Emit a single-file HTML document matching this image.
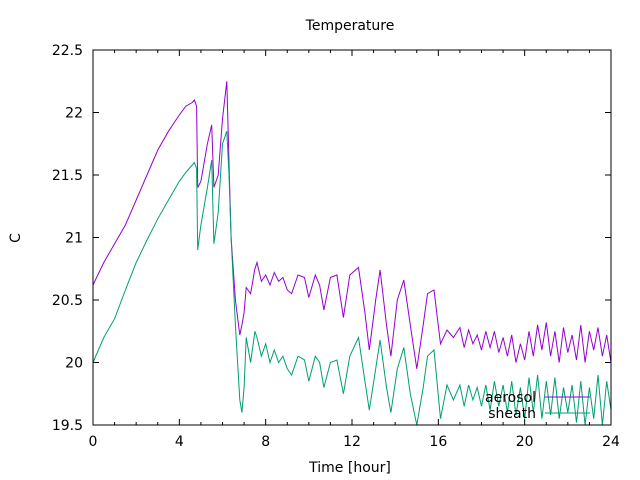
<!DOCTYPE html>
<html><head><meta charset="utf-8"><style>
body{margin:0;background:#fff;}
svg{display:block;font-family:"DejaVu Sans","Liberation Sans",sans-serif;}
</style></head><body>
<svg id="chart" width="640" height="480" viewBox="0 0 640 480">
<text x="350" y="30" text-anchor="middle" font-size="14">Temperature</text>
<text x="20" y="238" text-anchor="middle" font-size="14" transform="rotate(-90 20 238)">C</text>
<text x="350" y="472" text-anchor="middle" font-size="14">Time [hour]</text>
<g id="axes"></g>
<g id="series"></g>
<g id="legend">
<text x="536" y="402" text-anchor="end" font-size="14">aerosol</text>
<line x1="545" y1="397" x2="590" y2="397" stroke="#9400d3" stroke-width="1"/>
<text x="536" y="418" text-anchor="end" font-size="14">sheath</text>
<line x1="545" y1="413" x2="590" y2="413" stroke="#009e73" stroke-width="1"/>
</g>
<rect x="93" y="50" width="518" height="375" fill="none" stroke="#000" stroke-width="1"/>
</svg>
<script>
const xTicks=[0,4,8,12,16,20,24];
const yTicks=[19.5,20,20.5,21,21.5,22,22.5];
const yTickLabels=["19.5","20","20.5","21","21.5","22","22.5"];
const timeA=[0,0.5,1,1.5,2,2.5,3,3.5,4,4.3,4.6,4.7,4.8,4.85,5.0,5.3,5.5,5.6,5.8,6.0,6.2,6.3,6.4,6.6,6.8,6.9,7.0,7.1,7.3,7.5,7.6,7.8,8.0,8.2,8.4,8.6,8.8,9.0,9.2,9.5,9.8,10.0,10.3,10.5,10.7,11.0,11.3,11.6,11.9,12.3,12.6,12.8,13.1,13.3,13.6,13.8,14.1,14.4,14.7,15.0,15.3,15.5,15.8,16.1,16.4,16.7,17.0,17.2,17.4,17.6,17.8,18.0,18.2,18.4,18.6,18.8,19.0,19.2,19.4,19.6,19.8,20.0,20.2,20.4,20.6,20.8,21.0,21.2,21.4,21.6,21.8,22.0,22.2,22.4,22.6,22.8,23.0,23.2,23.4,23.6,23.8,24.0];
const aerosol=[20.62,20.8,20.95,21.1,21.3,21.5,21.7,21.85,21.98,22.05,22.08,22.1,22.05,21.4,21.45,21.75,21.9,21.4,21.5,21.95,22.25,21.6,21.0,20.5,20.22,20.3,20.4,20.6,20.55,20.75,20.8,20.65,20.7,20.62,20.72,20.65,20.68,20.58,20.55,20.7,20.68,20.52,20.7,20.62,20.42,20.68,20.7,20.36,20.7,20.76,20.4,20.1,20.5,20.74,20.3,20.05,20.5,20.66,20.3,19.95,20.3,20.55,20.58,20.15,20.26,20.2,20.28,20.12,20.26,20.15,20.22,20.1,20.25,20.12,20.25,20.08,20.2,20.05,20.22,20.0,20.15,20.02,20.25,20.05,20.3,20.1,20.32,20.05,20.25,20.0,20.28,20.08,20.22,20.02,20.3,20.0,20.25,20.1,20.28,20.05,20.22,20.0];
const sheath=[20.0,20.2,20.35,20.58,20.8,20.98,21.15,21.3,21.45,21.52,21.58,21.6,21.55,20.9,21.1,21.4,21.62,20.95,21.2,21.75,21.85,21.5,21.0,20.3,19.7,19.6,19.8,20.2,20.0,20.25,20.2,20.05,20.15,20.0,20.1,20.0,20.05,19.95,19.9,20.05,20.02,19.85,20.05,20.0,19.8,20.0,20.02,19.75,20.05,20.2,19.85,19.62,19.95,20.18,19.8,19.6,19.95,20.12,19.75,19.5,19.8,20.05,20.1,19.55,19.82,19.7,19.82,19.65,19.82,19.7,19.8,19.65,19.82,19.62,19.85,19.65,19.82,19.6,19.85,19.58,19.8,19.55,19.88,19.6,19.9,19.55,19.85,19.58,19.88,19.55,19.8,19.6,19.82,19.52,19.85,19.5,19.8,19.55,19.9,19.5,19.85,19.62];
const NS="http://www.w3.org/2000/svg";
const X0=93,X1=611,Y0=425,Y1=50;
function sx(t){return X0+(t/24)*(X1-X0);}
function sy(v){return Y0-(v-19.5)/3*(Y0-Y1);}
const axes=document.getElementById('axes');
function mk(tag,attrs){const e=document.createElementNS(NS,tag);for(const k in attrs)e.setAttribute(k,attrs[k]);return e;}
for(let h=0;h<=24;h++){
  const major=h%4===0,len=major?6:3;
  const b=mk('line',{x1:sx(h),x2:sx(h),y1:Y0,y2:Y0-len,stroke:'#000'});
  
  
  axes.appendChild(b);
  const tp=mk('line',{x1:sx(h),x2:sx(h),y1:Y1,y2:Y1+len,stroke:'#000'});
  
  
  axes.appendChild(tp);
}
xTicks.forEach(t=>{
  const tx=mk('text',{x:sx(t),y:446,'text-anchor':'middle','font-size':14});
  
  
  tx.textContent=String(t);axes.appendChild(tx);
});
yTicks.forEach((v,i)=>{
  const l=mk('line',{x1:X0,x2:X0+6,y1:sy(v),y2:sy(v),stroke:'#000'});
  
  
  axes.appendChild(l);
  const r=mk('line',{x1:X1,x2:X1-6,y1:sy(v),y2:sy(v),stroke:'#000'});
  
  
  axes.appendChild(r);
  const tx=mk('text',{x:83,y:sy(v)+5,'text-anchor':'end','font-size':14});
  
  
  tx.textContent=yTickLabels[i];axes.appendChild(tx);
});
const series=document.getElementById('series');
function line(vals,color,name){
  const d=vals.map((v,i)=>(i?'L':'M')+sx(timeA[i]).toFixed(1)+','+sy(v).toFixed(1)).join('');
  const p=mk('path',{d:d,fill:'none',stroke:color,'stroke-width':1});
  
  
  series.appendChild(p);
}
line(aerosol,'#9400d3','aerosol-line');
line(sheath,'#009e73','sheath-line');
</script>
</body></html>
